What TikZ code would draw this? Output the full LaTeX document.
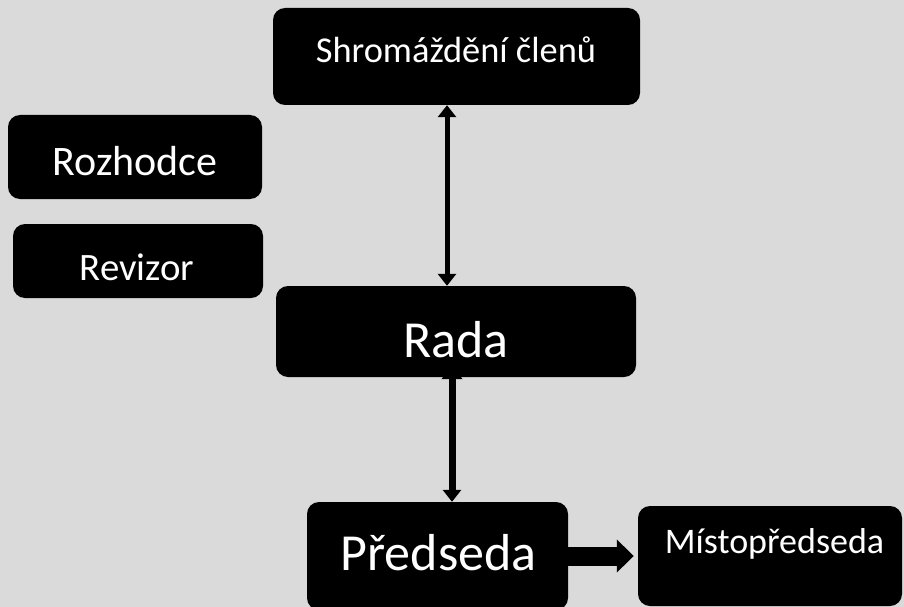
\documentclass[tikz,border=0pt]{standalone}
\usepackage{fontspec}
\setmainfont{Carlito}
\usetikzlibrary{arrows.meta}
\definecolor{bgc}{RGB}{218,218,218}
\begin{document}
\begin{tikzpicture}[x=1pt,y=-1pt,
  box/.style={fill=black, rounded corners=12pt, inner sep=0pt},
  lbl/.style={text=white, anchor=base, inner sep=0pt},
  conn/.style={draw=black}]
\useasboundingbox (0,0) rectangle (904,607);
\clip (0,0) rectangle (904,607);
\fill[bgc] (0,0) rectangle (904,607);
% boxes
\node[box, minimum width=367pt, minimum height=97pt] (shrom) at (456.5,56.5) {};
\node[box, minimum width=254pt, minimum height=84pt] (rozh) at (135,157) {};
\node[box, minimum width=250pt, minimum height=74pt] (reviz) at (138,261) {};
\node[box, minimum width=360pt, minimum height=91pt] (rada) at (456,331.5) {};
\node[box, minimum width=261pt, minimum height=108pt] (preds) at (437.5,556) {};
\node[box, minimum width=264pt, minimum height=100pt] (misto) at (770,556) {};
% connectors
\draw[conn, line width=5pt, {Triangle[width=18pt,length=12pt]}-{Triangle[width=18pt,length=12pt]}]
  ([xshift=-9.5pt]shrom.south) -- ([xshift=-9pt]rada.north);
\draw[conn, line width=7pt, {Triangle[width=20pt,length=15pt]}-{Triangle[width=18pt,length=12pt]}]
  ([xshift=-4pt,yshift=13pt]rada.south) -- ([xshift=14.5pt]preds.north);
\draw[conn, line width=19pt, -{Triangle[width=32pt,length=17pt]}]
  (preds.east) -- ([xshift=-4pt]misto.west);
% labels
\node[lbl, font=\fontsize{36.4}{42}\selectfont] (tshrom) at (456,63) {Shromáždění členů};
\node[lbl, font=\fontsize{42}{48}\selectfont] (trozh) at (135,175) {Rozhodce};
\node[lbl, font=\fontsize{38.8}{44}\selectfont] (treviz) at (137,280) {Revizor};
\node[lbl, font=\fontsize{52}{58}\selectfont] (trada) at (456,357) {Rada};
\node[lbl, font=\fontsize{52}{58}\selectfont] (tpreds) at (438.5,570) {Předseda};
\node[lbl, font=\fontsize{36}{42}\selectfont] (tmisto) at (774.5,553) {Místopředseda};
\end{tikzpicture}
\end{document}
